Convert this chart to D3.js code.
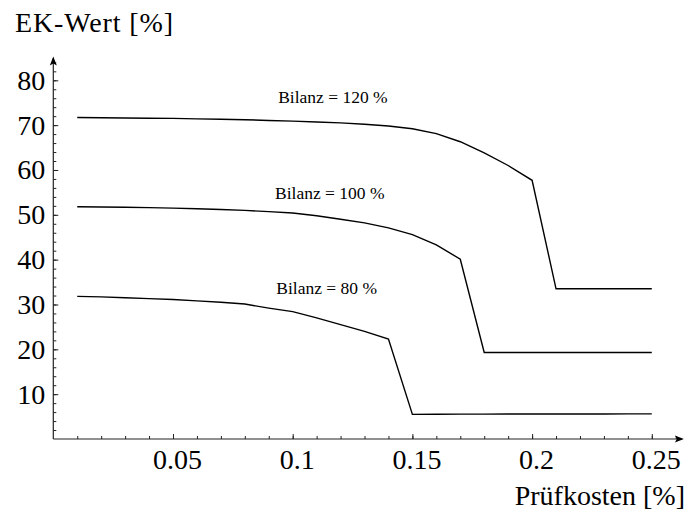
<!DOCTYPE html>
<html lang="de">
<head>
    <meta charset="UTF-8">
    <title>EK-Wert vs Prüfkosten</title>
    <script src="https://cdn.jsdelivr.net/npm/d3@7"></script>
    <style>
        body { margin: 0; background: #fff; }
        text { font-family: "Liberation Serif", "Times New Roman", serif; fill: #000; }
    </style>
</head>
<body>
<svg id="main" width="688" height="515"></svg>
<script>
    // Prüfkosten (x) in steps of 0.01
    const kosten = [0.01, 0.02, 0.03, 0.04, 0.05, 0.06, 0.07, 0.08, 0.09, 0.10,
        0.11, 0.12, 0.13, 0.14, 0.15, 0.16, 0.17, 0.18, 0.19, 0.20,
        0.21, 0.22, 0.23, 0.24, 0.25];

    // EK-Wert per Bilanz level
    const bilanz120 = [71.7, 71.65, 71.6, 71.55, 71.5, 71.4, 71.3, 71.2, 71.05, 70.9,
        70.7, 70.5, 70.2, 69.8, 69.2, 68.1, 66.3, 63.8, 61.0, 57.7,
        33.5, 33.5, 33.5, 33.5, 33.5];
    const bilanz100 = [51.8, 51.75, 51.7, 51.6, 51.5, 51.35, 51.2, 51.0, 50.7, 50.4,
        49.8, 49.0, 48.2, 47.1, 45.6, 43.3, 40.1, 19.3, 19.3, 19.3,
        19.3, 19.3, 19.3, 19.3, 19.3];
    const bilanz80 = [31.8, 31.7, 31.5, 31.3, 31.1, 30.8, 30.5, 30.1, 29.2, 28.4,
        27.0, 25.5, 24.0, 22.3, 5.5, 5.52, 5.54, 5.55, 5.56, 5.57,
        5.58, 5.58, 5.59, 5.6, 5.6];

    const seriesNames = ['Bilanz = 120 %', 'Bilanz = 100 %', 'Bilanz = 80 %'];
    const seriesValues = [bilanz120, bilanz100, bilanz80];
    // label anchor (x, y) in data units
    const labelX = [0.1168, 0.1155, 0.1142];
    const labelY = [76.2, 54.9, 33.6];

    const xTicks = [0.05, 0.1, 0.15, 0.2, 0.25];
    const xTickLabels = ['0.05', '0.1', '0.15', '0.2', '0.25'];
    const yTicks = [10, 20, 30, 40, 50, 60, 70, 80];

    let svg = d3.select('svg#main');

    let x = d3.scaleLinear().domain([0, 0.25]).range([53.3, 651.8]);
    let y = d3.scaleLinear().domain([0, 80]).range([439, 80.3]);

    const xEnd = 0.2634, yEnd = 85.3;
    const axisColor = '#222';

    // minor ticks
    let xMinor = d3.range(1, 27).map(i => i / 100);
    let yMinor = d3.range(2, 85, 2);

    let gxMinor = svg.append('g')
        .attr('transform', 'translate(0,' + y(0) + ')')
        .call(d3.axisBottom(x).tickValues(xMinor).tickSizeInner(-3).tickSizeOuter(0).tickFormat(''));
    let gyMinor = svg.append('g')
        .attr('transform', 'translate(' + x(0) + ',0)')
        .call(d3.axisLeft(y).tickValues(yMinor).tickSizeInner(-3).tickSizeOuter(0).tickFormat(''));

    // major ticks with labels
    let gx = svg.append('g')
        .attr('transform', 'translate(0,' + y(0) + ')')
        .call(d3.axisBottom(x).tickValues(xTicks).tickSizeInner(-5).tickSizeOuter(0)
            .tickPadding(10).tickFormat((d, i) => xTickLabels[i]));
    let gy = svg.append('g')
        .attr('transform', 'translate(' + x(0) + ',0)')
        .call(d3.axisLeft(y).tickValues(yTicks).tickSizeInner(-5).tickSizeOuter(0)
            .tickPadding(8));

    [gxMinor, gyMinor, gx, gy].forEach(g => {
        g.select('.domain').remove();
        g.selectAll('line').attr('stroke', axisColor).attr('stroke-width', 1);
    });
    gx.selectAll('text').attr('font-size', 28).attr('dx', 4)
        .style('font-family', '"Liberation Serif", serif');
    gy.selectAll('text').attr('font-size', 28)
        .style('font-family', '"Liberation Serif", serif');

    // axis lines with arrow heads
    svg.append('line')
        .attr('x1', x(0)).attr('y1', y(0)).attr('x2', x(xEnd) - 2).attr('y2', y(0))
        .attr('stroke', axisColor).attr('stroke-width', 1.2);
    svg.append('line')
        .attr('x1', x(0)).attr('y1', y(0)).attr('x2', x(0)).attr('y2', y(yEnd) + 2)
        .attr('stroke', axisColor).attr('stroke-width', 1.2);
    let ax = x(xEnd), ay = y(0);
    svg.append('path')
        .attr('d', `M${ax},${ay} L${ax - 9},${ay - 3.5} L${ax - 7},${ay} L${ax - 9},${ay + 3.5} Z`)
        .attr('fill', '#000');
    let bx = x(0), by = y(yEnd);
    svg.append('path')
        .attr('d', `M${bx},${by} L${bx - 3.5},${by + 9} L${bx},${by + 7} L${bx + 3.5},${by + 9} Z`)
        .attr('fill', '#000');

    // curves
    let line = d3.line()
        .x((d, i) => x(kosten[i]))
        .y(d => y(d));

    svg.selectAll('.curve')
        .data(seriesValues)
        .enter()
        .append('path')
        .attr('class', 'curve')
        .attr('d', d => line(d))
        .attr('fill', 'none')
        .attr('stroke', '#000')
        .attr('stroke-width', 1.4)
        .attr('stroke-linejoin', 'miter');

    svg.selectAll('.curveLabel')
        .data(seriesNames)
        .enter()
        .append('text')
        .attr('class', 'curveLabel')
        .attr('x', (d, i) => x(labelX[i]))
        .attr('y', (d, i) => y(labelY[i]))
        .attr('dy', '0.35em')
        .attr('text-anchor', 'middle')
        .attr('font-size', 17.5)
        .text(d => d);

    // axis titles
    svg.append('text')
        .attr('x', 15).attr('y', 32)
        .attr('font-size', 28)
        .attr('textLength', 158).attr('lengthAdjust', 'spacing')
        .text('EK-Wert [%]');
    svg.append('text')
        .attr('x', 685).attr('y', 505)
        .attr('text-anchor', 'end')
        .attr('font-size', 28)
        .text('Prüfkosten [%]');
</script>
</body>
</html>
